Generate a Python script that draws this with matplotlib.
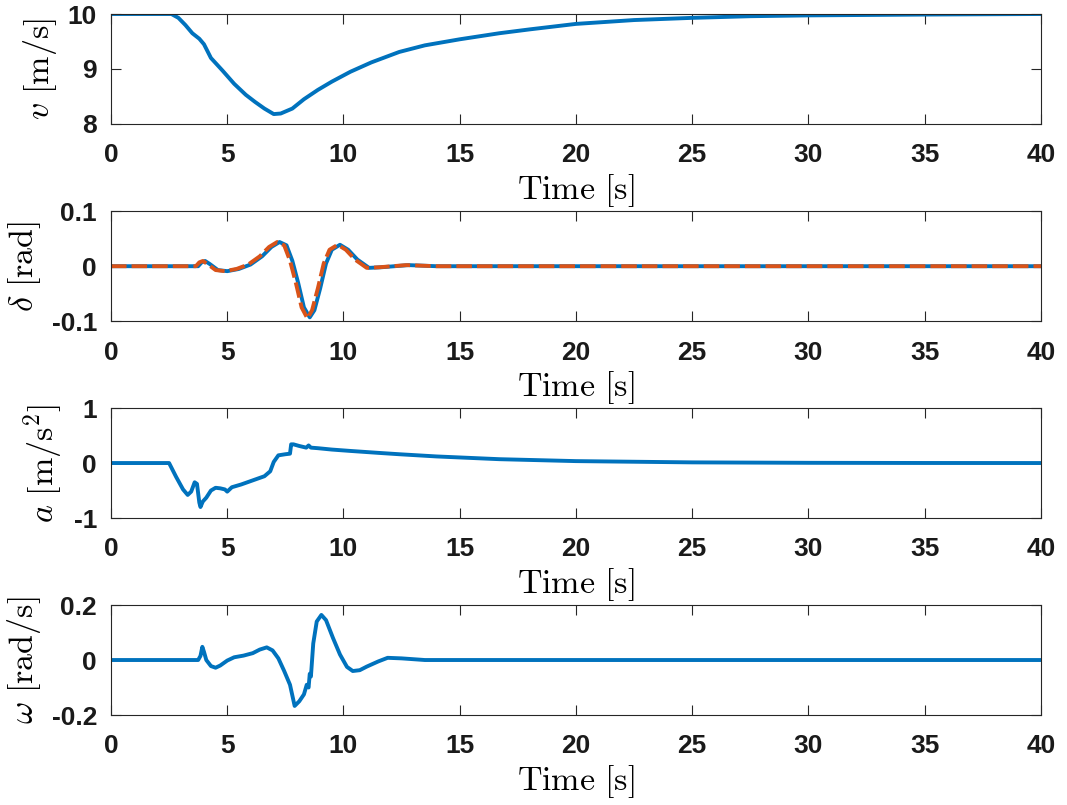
import numpy as np
import matplotlib
matplotlib.use("Agg")
import matplotlib.pyplot as plt

plt.rcParams['mathtext.fontset'] = 'cm'
plt.rcParams['font.family'] = ['Liberation Sans', 'DejaVu Sans']

blue = '#0072BD'
orange = '#D95319'

# speed
t_v = [0, 2.6, 2.9, 3.2, 3.5, 3.8, 4.0, 4.3, 4.8, 5.3, 5.8, 6.2, 6.6, 7.0, 7.3, 7.8,
       8.3, 8.9, 9.5, 10.3, 11.2, 12.4, 13.5, 15, 16.7, 18, 20, 22.5, 25, 27.5, 30, 35, 40]
v = [10, 10, 9.93, 9.8, 9.65, 9.55, 9.45, 9.2, 8.97, 8.73, 8.53, 8.4, 8.28, 8.18, 8.19, 8.28,
     8.45, 8.62, 8.77, 8.95, 9.12, 9.31, 9.43, 9.54, 9.65, 9.72, 9.82, 9.89, 9.93, 9.96, 9.975, 9.99, 10]

# steering angle (actual / reference)
t_d = [0, 3.75, 3.9, 4.05, 4.25, 4.6, 5.0, 5.5, 6.0, 6.5, 6.9, 7.25, 7.55, 7.8, 8.05, 8.3,
       8.55, 8.75, 9.0, 9.25, 9.5, 9.85, 10.2, 10.6, 11.1, 11.6, 12.8, 14, 40]
d = [0, 0, 0.007, 0.0095, 0.004, -0.007, -0.009, -0.005, 0.003, 0.018, 0.035, 0.044, 0.038, 0.01, -0.03, -0.075,
     -0.093, -0.08, -0.04, 0.005, 0.03, 0.039, 0.03, 0.012, -0.003, -0.002, 0.002, 0, 0]
t_dr = [0, 3.65, 3.8, 3.95, 4.15, 4.5, 4.9, 5.4, 5.9, 6.4, 6.8, 7.15, 7.45, 7.7, 7.95, 8.2,
        8.45, 8.65, 8.9, 9.15, 9.4, 9.75, 10.1, 10.5, 11.0, 11.5, 12.7, 14, 40]
d_ref = [0, 0, 0.007, 0.0095, 0.004, -0.007, -0.009, -0.005, 0.003, 0.018, 0.035, 0.044, 0.038, 0.01, -0.03, -0.075,
         -0.095, -0.08, -0.04, 0.005, 0.03, 0.039, 0.03, 0.012, -0.003, -0.002, 0.002, 0, 0]

# acceleration
t_a = [0, 2.5, 2.8, 3.1, 3.3, 3.45, 3.6, 3.7, 3.8, 3.85, 3.95, 4.1, 4.3, 4.5, 4.7, 4.9, 5.0, 5.2,
       5.6, 6.0, 6.4, 6.6, 6.85, 7.0, 7.2, 7.5, 7.7, 7.75, 7.85, 8.1, 8.4, 8.5, 8.6, 8.9, 9.5,
       10.3, 11.5, 12.4, 14, 16.7, 20, 25, 30, 35, 40]
a = [0, 0, -0.25, -0.48, -0.58, -0.52, -0.35, -0.38, -0.72, -0.8, -0.7, -0.63, -0.5, -0.45, -0.46, -0.48, -0.52, -0.44,
     -0.39, -0.33, -0.27, -0.24, -0.15, 0.02, 0.14, 0.16, 0.17, 0.34, 0.34, 0.31, 0.28, 0.32, 0.28, 0.27, 0.245,
     0.22, 0.185, 0.16, 0.12, 0.07, 0.035, 0.012, 0.004, 0.001, 0]

# yaw rate
t_w = [0, 3.75, 3.85, 3.93, 4.0, 4.1, 4.3, 4.5, 4.7, 5.0, 5.3, 5.7, 6.1, 6.4, 6.7, 6.95, 7.2, 7.45,
       7.7, 7.9, 8.1, 8.3, 8.42, 8.5, 8.55, 8.6, 8.7, 8.85, 9.05, 9.25, 9.55, 9.85, 10.15, 10.4,
       10.7, 11.0, 11.5, 11.9, 12.5, 13.5, 40]
w = [0, 0, 0.015, 0.048, 0.03, 0.0, -0.022, -0.028, -0.02, -0.002, 0.01, 0.016, 0.025, 0.038, 0.046, 0.035, 0.006, -0.04,
     -0.09, -0.167, -0.15, -0.125, -0.09, -0.1, -0.05, -0.06, 0.06, 0.14, 0.164, 0.145, 0.08, 0.02, -0.025, -0.04,
     -0.037, -0.024, -0.005, 0.008, 0.006, 0.0, 0]

ylabels = [r'$v\ \mathrm{[m/s]}$', r'$\delta\ \mathrm{[rad]}$',
           r'$a\ \mathrm{[m/s^2]}$', r'$\omega\ \mathrm{[rad/s]}$']
ylims = [(8, 10), (-0.1, 0.1), (-1, 1), (-0.2, 0.2)]
yticks = [[8, 9, 10], [-0.1, 0, 0.1], [-1, 0, 1], [-0.2, 0, 0.2]]
yticklabels = [['8', '9', '10'], ['-0.1', '0', '0.1'], ['-1', '0', '1'], ['-0.2', '0', '0.2']]

fig = plt.figure(figsize=(10.67, 8.05), dpi=100)
bottoms = [0.846, 0.601, 0.3565, 0.1118]
axes = [fig.add_axes([0.104, b, 0.8716, 0.1366]) for b in bottoms]

lw = 2.8
axes[0].plot(t_v, v, color=blue, lw=lw)
axes[1].plot(t_d, d, color=blue, lw=lw)
axes[1].plot(t_dr, d_ref, color=orange, lw=lw, dashes=(4, 1.3))
axes[2].plot(t_a, a, color=blue, lw=lw)
axes[3].plot(t_w, w, color=blue, lw=lw)

for i, ax in enumerate(axes):
    ax.set_xlim(0, 40)
    ax.set_ylim(*ylims[i])
    ax.set_xticks(range(0, 41, 5))
    ax.set_yticks(yticks[i])
    ax.set_yticklabels(yticklabels[i])
    ax.tick_params(direction='in', top=True, right=True, length=7, width=0.8,
                   labelsize=19, color='#262626')
    ax.tick_params(axis='x', pad=14)
    ax.tick_params(axis='y', pad=10)
    for lab in ax.get_xticklabels() + ax.get_yticklabels():
        lab.set_fontweight('bold')
        lab.set_color('#1a1a1a')
    for s in ax.spines.values():
        s.set_color('#262626')
        s.set_linewidth(0.8)
    ax.set_xlabel(r'$\mathrm{Time\ [s]}$', fontsize=24.5, labelpad=3)
    ax.set_ylabel(ylabels[i], fontsize=24.5, labelpad=6)

fig.savefig('out.png', dpi=100)
